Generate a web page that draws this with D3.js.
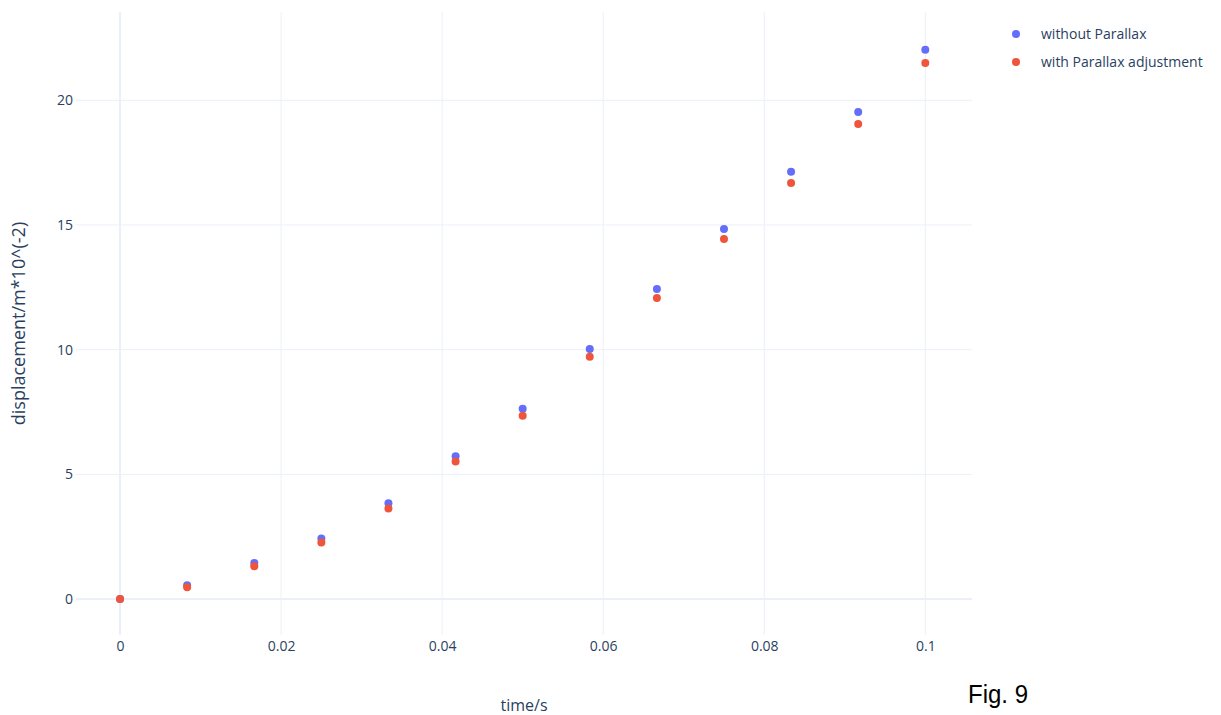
<!DOCTYPE html>
<html>
  <head>
    <meta charset="utf-8">
    <title>Displacement over time</title>
    <script src="https://cdn.jsdelivr.net/npm/d3@7"></script>
    <style>
      body { margin: 0; background: #fff; }
      svg { display: block; font-family: "Open Sans", sans-serif; }
      .grid line { stroke: #ebf0f8; stroke-width: 1; }
      .grid .zero { stroke-width: 2; }
      .axis text { fill: #2a3f5f; font-size: 14px; }
      .title { fill: #2a3f5f; }
    </style>
  </head>

  <body>
    <div id="container"></div>

    <script>
      // data
      time = [0, 0.00833, 0.01667, 0.025, 0.03333, 0.04167, 0.05, 0.05833, 0.06667, 0.075, 0.08333, 0.09167, 0.1];
      withoutParallax = [0, 0.55, 1.45, 2.43, 3.84, 5.73, 7.63, 10.03, 12.43, 14.84, 17.13, 19.53, 22.03];
      withParallax = [0, 0.47, 1.32, 2.27, 3.63, 5.52, 7.35, 9.72, 12.07, 14.44, 16.68, 19.05, 21.5];
      xTicks = [0, 0.02, 0.04, 0.06, 0.08, 0.1];
      yTicks = [0, 5, 10, 15, 20];
      seriesNames = ["without Parallax", "with Parallax adjustment"];
      colours = ["#636efa", "#ef553b"];

      width = 1221;
      height = 715;
      margin = {top: 12, right: 249, bottom: 80, left: 76};

      svg = d3.select("#container").append("svg")
        .attr("width", width)
        .attr("height", height);

      xScale = d3.scaleLinear()
        .domain([-0.00547, 0.1058])
        .range([margin.left, width - margin.right]);
      yScale = d3.scaleLinear()
        .domain([-1.44, 23.54])
        .range([height - margin.bottom, margin.top]);

      // gridlines
      grid = svg.append("g").classed("grid", true);
      grid.selectAll(".vx")
          .data(xTicks)
        .enter().append("line")
          .attr("class", d => d === 0 ? "vx zero" : "vx")
          .attr("x1", d => xScale(d)).attr("x2", d => xScale(d))
          .attr("y1", margin.top).attr("y2", height - margin.bottom);
      grid.selectAll(".hy")
          .data(yTicks)
        .enter().append("line")
          .attr("class", d => d === 0 ? "hy zero" : "hy")
          .attr("y1", d => yScale(d)).attr("y2", d => yScale(d))
          .attr("x1", margin.left).attr("x2", width - margin.right);

      // axes
      svg.append("g")
        .classed("axis x", true)
        .attr("transform", "translate(0," + (height - margin.bottom) + ")")
        .call(d3.axisBottom(xScale)
          .tickValues(xTicks)
          .tickFormat(d3.format("~g"))
          .tickSize(0)
          .tickPadding(6)
        )
        .call(g => g.select(".domain").remove());

      svg.append("g")
        .classed("axis y", true)
        .attr("transform", "translate(" + margin.left + ",0)")
        .call(d3.axisLeft(yScale)
          .tickValues(yTicks)
          .tickSize(0)
          .tickPadding(3)
        )
        .call(g => g.select(".domain").remove());

      svg.selectAll(".axis text").style("font-family", "'Open Sans', sans-serif");

      // markers
      series = [withoutParallax, withParallax];
      series.forEach((values, s) => {
        svg.append("g")
          .style("fill", colours[s])
          .selectAll("circle")
            .data(values)
          .enter().append("circle")
            .attr("cx", (d, i) => xScale(time[i]))
            .attr("cy", d => yScale(d))
            .attr("r", 4);
      });

      // titles
      svg.append("text")
        .classed("title", true)
        .attr("x", (margin.left + width - margin.right) / 2)
        .attr("y", 711)
        .attr("text-anchor", "middle")
        .style("font-size", "16px")
        .text("time/s");

      svg.append("text")
        .classed("title", true)
        .attr("transform", "translate(25," + ((margin.top + height - margin.bottom) / 2) + ") rotate(-90)")
        .attr("text-anchor", "middle")
        .style("font-size", "18px")
        .text("displacement/m*10^(-2)");

      // legend
      legend = svg.append("g")
        .selectAll("g")
          .data(seriesNames)
        .enter().append("g")
          .attr("transform", (d, i) => "translate(1016," + (34 + i * 28) + ")");
      legend.append("circle")
        .attr("r", 4)
        .style("fill", (d, i) => colours[i]);
      legend.append("text")
        .attr("x", 25)
        .attr("dy", "0.35em")
        .style("fill", "#2a3f5f")
        .style("font-size", "14px")
        .text(d => d);

      // figure caption
      svg.append("text")
        .attr("x", 968)
        .attr("y", 703)
        .attr("textLength", 60)
        .attr("lengthAdjust", "spacingAndGlyphs")
        .style("font-family", "'Liberation Sans', sans-serif")
        .style("font-size", "25px")
        .style("fill", "#000")
        .text("Fig. 9");
    </script>
  </body>
</html>
